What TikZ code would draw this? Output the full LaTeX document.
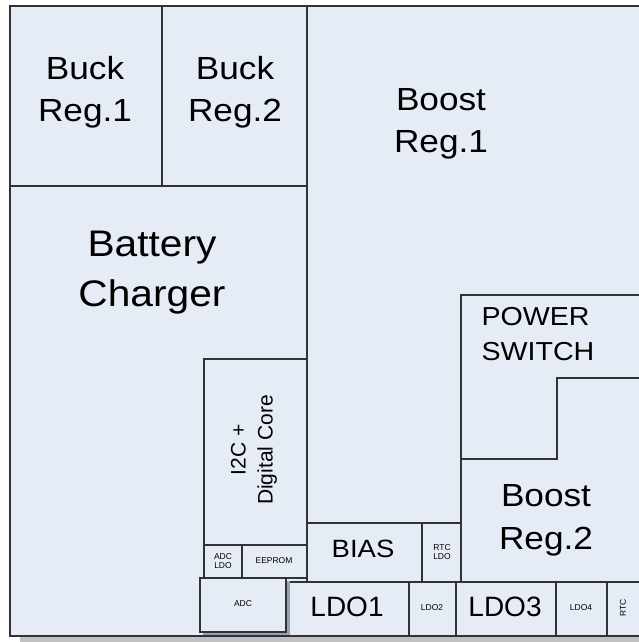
\documentclass[tikz,border=0pt]{standalone}
\usepackage{fontspec}
\setmainfont{Liberation Sans}
\newfontfamily\widesf[FakeStretch=1.1]{Liberation Sans}
\definecolor{diefill}{RGB}{230,236,246}
\definecolor{dieedge}{RGB}{48,50,56}
\definecolor{adcside}{RGB}{150,162,184}
\definecolor{dieshadow}{RGB}{192,192,192}

\begin{document}
\begin{tikzpicture}[x=1pt,y=-1pt,
  blk/.style={draw=dieedge, line width=1.3pt},
  huge/.style={font=\widesf\fontsize{37}{50}\selectfont, align=center},
  big/.style={font=\widesf\fontsize{32}{42}\selectfont, align=center},
  mid/.style={font=\widesf\fontsize{26}{35}\selectfont, align=left},
  core/.style={font=\fontsize{21}{27}\selectfont, align=center, rotate=90},
  tiny/.style={font=\fontsize{8.5}{9.5}\selectfont, align=center}]
\useasboundingbox (0,0) rectangle (639,642);
% die body and shadow
\fill[dieshadow] (20,637) rectangle (650,642);
\fill[diefill] (10,6) rectangle (650,636);
% top row
\draw[blk] (10,6) rectangle (162,186);
\node[big] (buck1) at (85,92) {Buck\\Reg.1};
\draw[blk] (162,6) rectangle (307,186);
\node[big] (buck2) at (235,92) {Buck\\Reg.2};
\draw[blk] (307,6) -- (307,582);
\node[big] (boost1) at (441,124) {Boost\\Reg.1};
% charger and digital
\node[huge] (charger) at (152,273) {Battery\\Charger};
\draw[blk] (204,578) -- (204,359) -- (307,359);
\node[core] (digital) at (254,450) {I2C +\\Digital Core};
\draw[blk] (204,545) -- (307,545);
\draw[blk] (242,545) -- (242,578) -- (307,578);
\node[tiny] (adcldo) at (223,561) {ADC\\LDO};
\node[tiny] (eeprom) at (274,561) {EEPROM};
% bias and rtc ldo
\draw[blk] (307,523) -- (461,523);
\draw[blk] (422,523) -- (422,582);
\node[font=\widesf\fontsize{25}{30}\selectfont] (bias) at (363,549) {BIAS};
\node[tiny] (rtcldo) at (442,552) {RTC\\LDO};
% power switch and boost 2
\draw[blk] (461,582) -- (461,295) -- (650,295);
\draw[blk] (461,459) -- (557,459) -- (557,378) -- (650,378);
\node[mid, anchor=north west] (pswitch) at (478,304) {POWER\\SWITCH};
\node[big, font=\widesf\fontsize{32}{43}\selectfont] (boost2) at (546,520) {Boost\\Reg.2};
% ldo row
\draw[blk] (286,582) -- (650,582);
\draw[blk] (409,582) -- (409,636);
\draw[blk] (456,582) -- (456,636);
\draw[blk] (556,582) -- (556,636);
\draw[blk] (607,582) -- (607,636);
\node[font=\fontsize{28}{30}\selectfont] (ldo1) at (347,607) {LDO1};
\node[tiny] (ldo2) at (432,608) {LDO2};
\node[font=\fontsize{28}{30}\selectfont] (ldo3) at (505,607) {LDO3};
\node[tiny] (ldo4) at (581,608) {LDO4};
\node[tiny, rotate=90] (rtc) at (623,608) {RTC};
% adc block
\fill[adcside] (203,581) rectangle (290,636);
\draw[blk, fill=diefill] (200,578) rectangle (286,632);
\node[tiny] (adc) at (243,604) {ADC};
% die outline
\draw[dieedge, line width=2pt] (650,6) -- (10,6) -- (10,636) -- (650,636);
\end{tikzpicture}
\end{document}
